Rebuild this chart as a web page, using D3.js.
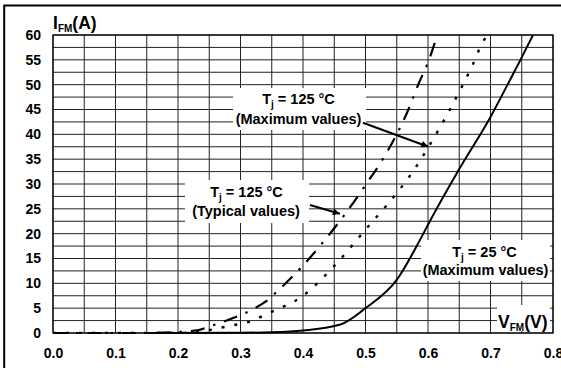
<!DOCTYPE html>
<html>
<head>
<meta charset="utf-8">
<script src="https://cdn.jsdelivr.net/npm/d3@7"></script>
<style>
  html, body { margin: 0; padding: 0; background: #fff; }
  svg { display: block; }
  text { font-family: "Liberation Sans", Arial, Helvetica, sans-serif; font-weight: bold; fill: #000; }
</style>
</head>
<body>
<svg id="chart" width="561" height="368"></svg>
<script>
// Forward voltage drop characteristics, I_FM versus V_FM

// Tj = 25 °C, maximum values (solid)
const vf25Max = [0.15, 0.30, 0.35, 0.40, 0.46, 0.50, 0.55, 0.587, 0.60, 0.65, 0.70, 0.731, 0.75, 0.768];
const if25Max = [0,    0.05, 0.15, 0.5,  1.7,  5.0,  10.7, 18.7,  21.8, 33.0, 43.5, 50.9,  55.5, 60.0];

// Tj = 125 °C, typical values (dash-dot)
const vf125Typ = [0, 0.15, 0.20, 0.233, 0.25, 0.288, 0.307, 0.323, 0.34, 0.358, 0.40, 0.458, 0.47, 0.50, 0.53, 0.57, 0.584, 0.60, 0.615];
const if125Typ = [0, 0,    0.2,  0.6,   1.3,  3.0,   4.0,   5.0,   6.3,  8.3,   13.6, 22.4,  24.4, 29.8, 35.5, 45.4, 49.9,  54.5, 60.0];

// Tj = 125 °C, maximum values (dotted)
const vf125Max = [0, 0.20, 0.25, 0.27, 0.29, 0.31, 0.328, 0.347, 0.40, 0.45, 0.502, 0.527, 0.554, 0.579, 0.60, 0.632, 0.651, 0.67, 0.687, 0.695];
const if125Max = [0, 0,    0.6,  1.1,  1.6,  2.1,  3.0,   4.1,   7.5,  13.5, 21.1,  24.7,  28.8,  33.1,  37.3, 44.3,  48.8,  53.6, 58.4,  60.0];

// Axis ticks
const xTicks = [0, 0.1, 0.2, 0.3, 0.4, 0.5, 0.6, 0.7, 0.8];
const yTicks = [0, 5, 10, 15, 20, 25, 30, 35, 40, 45, 50, 55, 60];
const xGrid = d3.range(0, 17).map(i => i * 0.05);
const yGrid = d3.range(0, 25).map(i => i * 2.5);

const svg = d3.select("#chart");
const plotL = 53, plotR = 553, plotT = 35, plotB = 333;

const x = d3.scaleLinear().domain([0, 0.8]).range([plotL, plotR]);
const y = d3.scaleLinear().domain([0, 60]).range([plotB, plotT]);

// outer frame (only top and left edges fall inside the view)
svg.append("rect")
  .attr("x", 4.2).attr("y", 5.5).attr("width", 700).attr("height", 500)
  .attr("fill", "none").attr("stroke", "#000").attr("stroke-width", 2);

// grid
const grid = svg.append("g").attr("stroke", "#222").attr("stroke-width", 1);
grid.selectAll("line.v").data(xGrid).join("line").attr("class", "v")
  .attr("x1", d => x(d)).attr("x2", d => x(d)).attr("y1", plotT).attr("y2", plotB);
grid.selectAll("line.h").data(yGrid).join("line").attr("class", "h")
  .attr("x1", plotL).attr("x2", plotR).attr("y1", d => y(d)).attr("y2", d => y(d));

// plot border
svg.append("rect").attr("x", plotL).attr("y", plotT).attr("width", plotR - plotL).attr("height", plotB - plotT)
  .attr("fill", "none").attr("stroke", "#000").attr("stroke-width", 1.2);

// axes
const fmtX = d3.format(".1f");
const gx = svg.append("g").attr("transform", `translate(0,${plotB})`)
  .call(d3.axisBottom(x).tickValues(xTicks).tickSize(0).tickPadding(15).tickFormat(fmtX));
const gy = svg.append("g").attr("transform", `translate(${plotL},0)`)
  .call(d3.axisLeft(y).tickValues(yTicks).tickSize(0).tickPadding(12));
[gx, gy].forEach(g => {
  g.select(".domain").remove();
  g.selectAll("text").attr("font-size", 14).attr("font-family", null).style("font-weight", "bold").attr("fill", "#000");
});

// white panels behind annotations
const panels = [
  [233, 88, 133, 42],
  [185, 180, 124, 43],
  [421, 240, 129, 41],
  [497, 305, 53, 26]
];
svg.append("g").selectAll("rect").data(panels).join("rect")
  .attr("x", d => d[0]).attr("y", d => d[1]).attr("width", d => d[2]).attr("height", d => d[3])
  .attr("fill", "#fff");

// curves
svg.append("clipPath").attr("id", "plotclip")
  .append("rect").attr("x", plotL).attr("y", plotT - 1).attr("width", plotR - plotL).attr("height", plotB - plotT + 2);

const line = d3.line().x(d => x(d[0])).y(d => y(d[1])).curve(d3.curveMonotoneX);
const curves = svg.append("g").attr("clip-path", "url(#plotclip)")
  .attr("fill", "none").attr("stroke", "#000").attr("stroke-linecap", "butt");

curves.append("path").datum(d3.zip(vf125Max, if125Max))
  .attr("d", line).attr("stroke-width", 2.4).attr("stroke-dasharray", "3,10");
curves.append("path").datum(d3.zip(vf125Typ, if125Typ))
  .attr("d", line).attr("stroke-width", 2.2).attr("stroke-dasharray", "14,9,2.5,9");
curves.append("path").datum(d3.zip(vf25Max, if25Max))
  .attr("d", line).attr("stroke-width", 2);

// arrows
const defs = svg.append("defs");
defs.append("marker").attr("id", "arrow")
  .attr("viewBox", "0 0 10 10").attr("refX", 10).attr("refY", 5)
  .attr("markerWidth", 10).attr("markerHeight", 7).attr("markerUnits", "userSpaceOnUse")
  .attr("orient", "auto")
  .append("path").attr("d", "M0,0L10,5L0,10Z").attr("fill", "#000");

const arrows = [
  { from: [363, 122.7], to: [0.6005, 37.5] },
  { from: [310, 205],   to: [0.459, 24.0] }
];
svg.append("g").selectAll("line").data(arrows).join("line")
  .attr("x1", d => d.from[0]).attr("y1", d => d.from[1])
  .attr("x2", d => x(d.to[0])).attr("y2", d => y(d.to[1]))
  .attr("stroke", "#000").attr("stroke-width", 2).attr("marker-end", "url(#arrow)");

// annotation text
function tjLabel(cx, by, temp) {
  const t = svg.append("text").attr("x", cx).attr("y", by).attr("text-anchor", "middle").attr("font-size", 14.5);
  t.append("tspan").text("T");
  t.append("tspan").attr("font-size", 10).attr("dy", 4).text("j");
  t.append("tspan").attr("dy", -4).text(" = " + temp + " °C");
}
function noteLine(cx, by, s) {
  svg.append("text").attr("x", cx).attr("y", by).attr("text-anchor", "middle").attr("font-size", 14.5).text(s);
}
tjLabel(298.5, 104, "125");
noteLine(298.5, 124, "(Maximum values)");
tjLabel(246.5, 197, "125");
noteLine(246, 216, "(Typical values)");
tjLabel(484.5, 257, "25");
noteLine(485.5, 275, "(Maximum values)");

// axis titles
function axisTitle(px, by, main, sub, unit) {
  const t = svg.append("text").attr("x", px).attr("y", by).attr("font-size", 17.5);
  t.append("tspan").text(main);
  t.append("tspan").attr("font-size", 10).attr("dy", 3).text(sub);
  t.append("tspan").attr("dy", -3).text("(" + unit + ")");
}
axisTitle(53, 29, "I", "FM", "A");
axisTitle(498, 327.5, "V", "FM", "V");
</script>
</body>
</html>
